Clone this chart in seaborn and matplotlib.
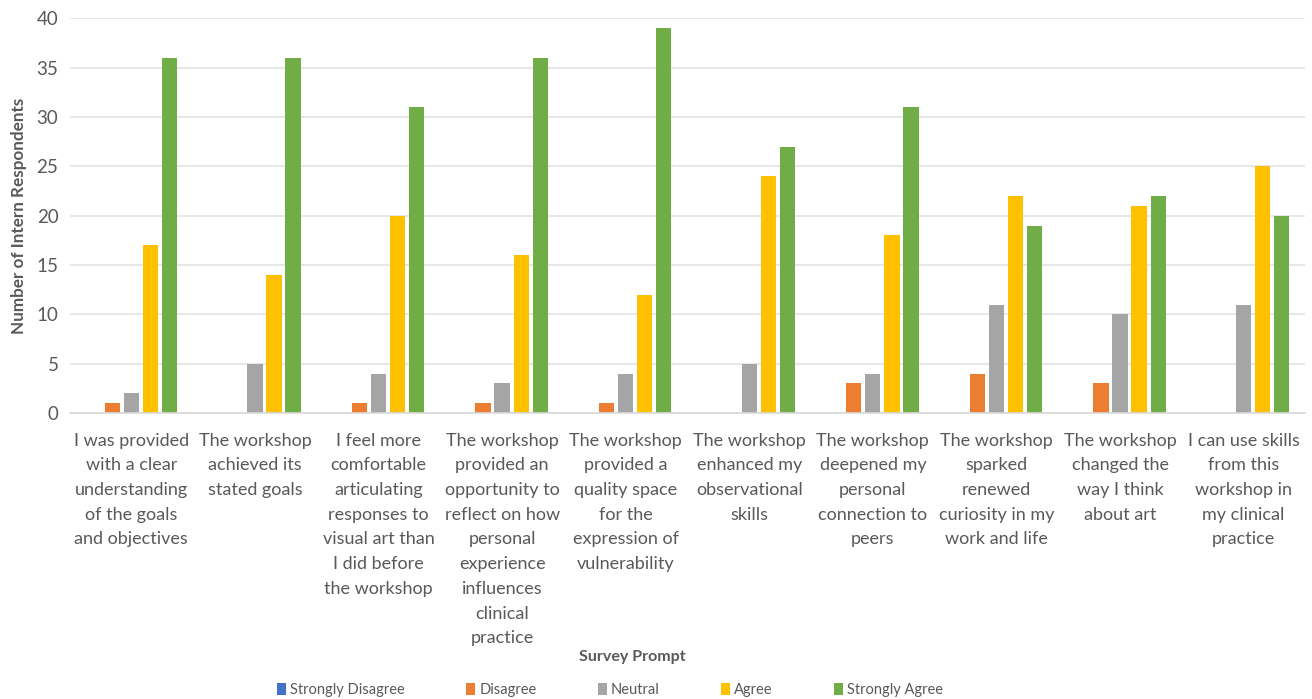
import numpy as np
import pandas as pd
import seaborn as sns
import matplotlib.pyplot as plt
from matplotlib.patches import Patch

prompts = [
    "I was provided\nwith a clear\nunderstanding\nof the goals\nand objectives",
    "The workshop\nachieved its\nstated goals",
    "I feel more\ncomfortable\narticulating\nresponses to\nvisual art than\nI did before\nthe workshop",
    "The workshop\nprovided an\nopportunity to\nreflect on how\npersonal\nexperience\ninfluences\nclinical\npractice",
    "The workshop\nprovided a\nquality space\nfor the\nexpression of\nvulnerability",
    "The workshop\nenhanced my\nobservational\nskills",
    "The workshop\ndeepened my\npersonal\nconnection to\npeers",
    "The workshop\nsparked\nrenewed\ncuriosity in my\nwork and life",
    "The workshop\nchanged the\nway I think\nabout art",
    "I can use skills\nfrom this\nworkshop in\nmy clinical\npractice",
]
responses = ["Strongly Disagree", "Disagree", "Neutral", "Agree", "Strongly Agree"]
strongly_disagree = [0, 0, 0, 0, 0, 0, 0, 0, 0, 0]
disagree = [1, 0, 1, 1, 1, 0, 3, 4, 3, 0]
neutral = [2, 5, 4, 3, 4, 5, 4, 11, 10, 11]
agree = [17, 14, 20, 16, 12, 24, 18, 22, 21, 25]
strongly_agree = [36, 36, 31, 36, 39, 27, 31, 19, 22, 20]
colors = ["#4472c4", "#ed7d31", "#a5a5a5", "#ffc000", "#70ad47"]

series = [strongly_disagree, disagree, neutral, agree, strongly_agree]
rows = []
for resp, vals in zip(responses, series):
    for p, v in zip(prompts, vals):
        rows.append({"Prompt": p, "Response": resp, "Count": v})
df = pd.DataFrame(rows)

sns.set_theme(style="white")
plt.rcParams['font.family'] = ['Lato', 'DejaVu Sans']

fig = plt.figure(figsize=(13.12, 6.99), dpi=100)
ax = fig.add_axes([0.053, 0.409, 0.942, 0.565])

sns.barplot(data=df, x="Prompt", y="Count", hue="Response",
            hue_order=responses, order=prompts, palette=colors,
            width=0.77, gap=0.2, ax=ax, legend=False, errorbar=None,
            saturation=1, linewidth=0)

ax.set_ylim(0, 40)
ax.set_yticks(range(0, 41, 5))
ax.set_xlim(-0.5, len(prompts) - 0.5)
ax.yaxis.grid(True, color="#e3e3e3", linewidth=1.2)
ax.set_axisbelow(True)
for s in ["top", "right", "left"]:
    ax.spines[s].set_visible(False)
ax.spines["bottom"].set_color("#d9d9d9")
ax.spines["bottom"].set_linewidth(1.2)
ax.tick_params(axis="y", length=0, colors="#595959", labelsize=13.5, pad=8)
ax.tick_params(axis="x", length=0, colors="#595959", labelsize=13, pad=14)
for lbl in ax.get_xticklabels():
    lbl.set_linespacing(1.67)
    lbl.set_verticalalignment("top")

ax.set_ylabel("Number of Intern Respondents", fontsize=12.3, fontweight="bold",
              color="#595959", labelpad=7)
ax.set_xlabel("")
fig.text(0.482, 0.06, "Survey Prompt", ha="center", va="center",
         fontsize=11.5, fontweight="bold", color="#595959")

handles = [Patch(facecolor=c, edgecolor="none") for c in colors]
fig.legend(handles, responses, loc="center", bbox_to_anchor=(0.465, 0.013),
           ncol=5, frameon=False, handlelength=0.6, handleheight=0.9,
           handletextpad=0.3, columnspacing=4.2, fontsize=10.5,
           labelcolor="#595959")

fig.savefig("out.png", dpi=100)
